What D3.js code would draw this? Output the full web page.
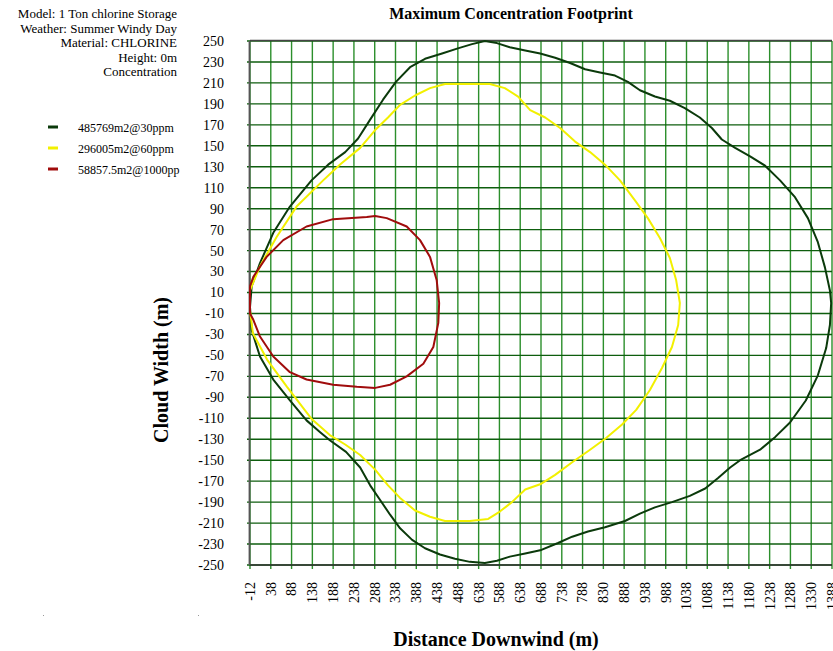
<!DOCTYPE html>
<html lang="en">
<head>
<meta charset="UTF-8">
<title>Maximum Concentration Footprint</title>
<script src="https://cdn.jsdelivr.net/npm/d3@7"></script>
<style>
    body { margin: 0; background: #fff; }
    svg { display: block; font-family: "Liberation Serif", "Times New Roman", serif; }
</style>
</head>
<body>
<div id="chart"></div>
<script>

    // tick labels on the distance axis (as printed on the original)
    var xLabels = ["-12", "38", "88", "138", "188", "238", "288", "338", "388", "438", "488", "638",
        "588", "638", "688", "738", "788", "830", "888", "938", "988", "1038", "1088", "1138",
        "1180", "1238", "1288", "1330", "1388"]
    var yTicks = d3.range(250, -251, -20)

    var infoLines = ["Model: 1 Ton chlorine Storage", "Weather: Summer Windy Day",
        "Material: CHLORINE", "Height: 0m", "Concentration"]
    var legendLabels = ["485769m2@30ppm", "296005m2@60ppm", "58857.5m2@1000pp"]

    // footprint outlines [distance, width]
    var ppm30 = [[-12, -4], [-8, 16], [12, 38], [44, 67], [84, 92], [136, 117], [176, 132], [217, 144],
        [248, 157], [277, 175], [308, 194], [339, 211], [373, 225], [409, 233], [450, 238], [488, 243],
        [522, 247], [553, 250], [582, 248], [613, 244], [650, 241], [686, 238], [722, 234], [758, 229],
        [794, 223], [830, 220], [866, 217], [897, 211], [926, 203], [962, 197], [998, 193], [1034, 186],
        [1070, 177], [1099, 167], [1123, 156], [1155, 148], [1191, 140], [1227, 131], [1263, 117],
        [1299, 101], [1330, 81], [1354, 58], [1371, 34], [1383, 12], [1386, 0], [1383, -21],
        [1374, -43], [1354, -69], [1325, -93], [1287, -114], [1251, -128], [1215, -140], [1167, -150],
        [1143, -157], [1114, -167], [1083, -177], [1046, -184], [1003, -190], [962, -195], [926, -201],
        [890, -208], [842, -214], [801, -218], [763, -223], [729, -229], [686, -236], [650, -239],
        [613, -242], [582, -246], [553, -248], [517, -247], [481, -244], [445, -240], [409, -234],
        [378, -226], [349, -215], [325, -202], [301, -188], [277, -174], [253, -157], [219, -142],
        [180, -131], [156, -123], [124, -112], [84, -93], [44, -73], [12, -51], [-8, -26], [-12, -4]]

    var ppm60 = [[-12, 12], [12, 35], [52, 63], [100, 92], [164, 117], [204, 132], [253, 148],
        [289, 165], [320, 177], [349, 189], [385, 198], [421, 205], [457, 209], [517, 209], [565, 209],
        [601, 205], [633, 197], [662, 184], [698, 177], [734, 167], [770, 154], [806, 144], [842, 132],
        [878, 117], [914, 98], [945, 81], [974, 62], [998, 43], [1013, 22], [1022, 0], [1018, -21],
        [1003, -42], [979, -62], [950, -83], [917, -102], [883, -116], [844, -129], [806, -140],
        [763, -152], [722, -164], [686, -173], [650, -178], [618, -190], [589, -199], [561, -206],
        [517, -208], [457, -208], [421, -204], [385, -198], [349, -186], [320, -174], [289, -159],
        [253, -145], [217, -135], [180, -126], [137, -111], [77, -80], [29, -54], [-5, -29], [-12, -7],
        [-12, 12]]

    var ppm1000 = [[-12, 16], [-4, 25], [28, 44], [68, 60], [124, 73], [188, 80], [269, 82], [289, 83],
        [317, 81], [365, 73], [397, 60], [421, 44], [437, 22], [443, 0], [441, -19], [429, -42],
        [405, -58], [365, -70], [325, -78], [289, -81], [245, -80], [188, -78], [124, -73], [84, -66],
        [44, -51], [12, -32], [-4, -16], [-12, -10], [-12, 16]]

    var contours = [ppm30, ppm60, ppm1000]
    var colors = ["#0b3a0b", "#f2f000", "#a00c0c"]

    var width = 833, height = 651
    var margin = {left: 250, right: 832, top: 41, bottom: 565}

    var svg = d3.select("#chart").append("svg")
        .attr("width", width)
        .attr("height", height)

    var x = d3.scaleLinear().domain([-12, 1388]).range([margin.left, margin.right])
    var y = d3.scaleLinear().domain([250, -250]).range([margin.top, margin.bottom])
    var xs = d3.scalePoint().domain(d3.range(xLabels.length)).range([margin.left, margin.right])

    // grid
    svg.append("g").selectAll("line")
        .data(xLabels.map(function(d, i) { return i }))
        .enter().append("line")
        .attr("x1", function(d) { return xs(d) }).attr("x2", function(d) { return xs(d) })
        .attr("y1", margin.top).attr("y2", margin.bottom + 4)
        .attr("stroke", "#2c8f2c").attr("stroke-width", 1.4)

    svg.append("g").selectAll("line")
        .data(yTicks)
        .enter().append("line")
        .attr("x1", margin.left - 3).attr("x2", margin.right)
        .attr("y1", function(d) { return y(d) }).attr("y2", function(d) { return y(d) })
        .attr("stroke", "#0e5e0e").attr("stroke-width", 1.4)

    // frame
    svg.append("line").attr("x1", margin.left).attr("x2", margin.right)
        .attr("y1", margin.top - 0.5).attr("y2", margin.top - 0.5)
        .attr("stroke", "#444").attr("stroke-width", 1.5)
    svg.append("line").attr("x1", margin.left).attr("x2", margin.right)
        .attr("y1", margin.bottom).attr("y2", margin.bottom)
        .attr("stroke", "#333").attr("stroke-width", 1.6)
    svg.append("line").attr("x1", margin.left - 0.5).attr("x2", margin.left - 0.5)
        .attr("y1", margin.top).attr("y2", margin.bottom)
        .attr("stroke", "#555").attr("stroke-width", 1.8)

    // y labels
    svg.append("g").selectAll("text")
        .data(yTicks)
        .enter().append("text")
        .attr("x", 224)
        .attr("y", function(d) { return y(d) })
        .attr("dy", "0.35em")
        .attr("text-anchor", "end")
        .style("font-size", "14px")
        .text(function(d) { return d })

    // x labels
    svg.append("g").selectAll("text")
        .data(xLabels)
        .enter().append("text")
        .attr("transform", function(d, i) { return "translate(" + xs(i) + ",582) rotate(-90)" })
        .attr("dy", "0.35em")
        .attr("text-anchor", "end")
        .style("font-size", "14px")
        .text(function(d) { return d })

    // outlines
    var line = d3.line()
        .x(function(d) { return x(d[0]) })
        .y(function(d) { return y(d[1]) })

    svg.append("g").selectAll("path")
        .data(contours)
        .enter().append("path")
        .attr("d", line)
        .attr("fill", "none")
        .attr("stroke", function(d, i) { return colors[i] })
        .attr("stroke-width", 2)
        .attr("stroke-linejoin", "round")

    // titles
    svg.append("text")
        .attr("x", 511).attr("y", 19)
        .attr("text-anchor", "middle")
        .style("font-size", "16px").style("font-weight", "bold")
        .text("Maximum Concentration Footprint")

    svg.append("text")
        .attr("transform", "translate(168,370) rotate(-90)")
        .attr("text-anchor", "middle")
        .style("font-size", "20px").style("font-weight", "bold")
        .text("Cloud Width (m)")

    svg.append("text")
        .attr("x", 496).attr("y", 646)
        .attr("text-anchor", "middle")
        .style("font-size", "20px").style("font-weight", "bold")
        .text("Distance Downwind (m)")

    // info block
    svg.append("g").selectAll("text")
        .data(infoLines)
        .enter().append("text")
        .attr("x", 177)
        .attr("y", function(d, i) { return 18 + i * 14.6 })
        .attr("text-anchor", "end")
        .style("font-size", "13px")
        .text(function(d) { return d })

    // legend
    var lg = svg.append("g").selectAll("g")
        .data(legendLabels)
        .enter().append("g")
        .attr("transform", function(d, i) { return "translate(0," + (127 + i * 21) + ")" })

    lg.append("line")
        .attr("x1", 48).attr("x2", 58)
        .attr("stroke", function(d, i) { return colors[i] })
        .attr("stroke-width", 3)

    lg.append("text")
        .attr("x", 78).attr("y", 5)
        .style("font-size", "12px")
        .text(function(d) { return d })

    // stray specks near the bottom-left
    svg.append("rect").attr("x", 43).attr("y", 615).attr("width", 1).attr("height", 1).attr("fill", "#999")
    svg.append("rect").attr("x", 198).attr("y", 615).attr("width", 1).attr("height", 1).attr("fill", "#999")

</script>
</body>
</html>
